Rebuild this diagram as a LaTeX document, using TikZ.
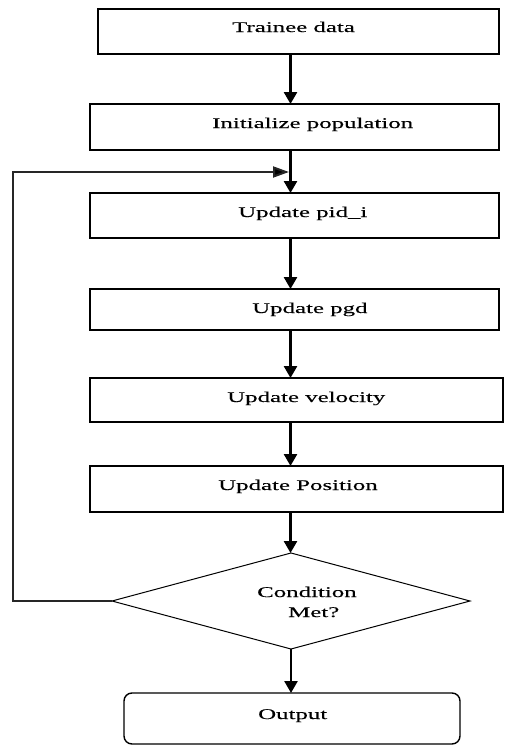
\documentclass[tikz,border=0pt]{standalone}
\usepackage{fontspec}
\setmainfont{Liberation Serif}[FakeStretch=1.68,FakeBold=0.15]
\usetikzlibrary{arrows.meta,shapes.geometric}

\begin{document}
\begin{tikzpicture}[x=1pt,y=-1pt,
  stepbox/.style={draw=black,line width=1.5pt,rectangle,inner sep=0pt,outer sep=0pt},
  decide/.style={draw=black,line width=1pt,diamond,inner sep=0pt,outer sep=0pt},
  endbox/.style={draw=black,line width=1.4pt,rectangle,rounded corners=8pt,inner sep=0pt,outer sep=0pt},
  lbl/.style={anchor=base west,inner sep=0pt,font=\fontsize{14.8pt}{17pt}\selectfont},
  flow/.style={line width=2.6pt,-{Triangle[width=13pt,length=12pt]}},
  back/.style={line width=2pt,draw=black!85,-{Triangle[width=11pt,length=16pt,fill=black]}}
]
\useasboundingbox (0,0) rectangle (505,747);

% process boxes
\node[stepbox,minimum width=401pt,minimum height=45pt] (b1) at (298.5,31.5) {};
\node[stepbox,minimum width=409pt,minimum height=46pt] (b2) at (294.5,127) {};
\node[stepbox,minimum width=409pt,minimum height=45pt] (b3) at (294.5,215.5) {};
\node[stepbox,minimum width=409pt,minimum height=41pt] (b4) at (294.5,309.5) {};
\node[stepbox,minimum width=413pt,minimum height=44pt] (b5) at (296.5,400) {};
\node[stepbox,minimum width=413pt,minimum height=46pt] (b6) at (296.5,489) {};

% decision and final box
\node[decide,minimum width=358pt,minimum height=96pt] (dia) at (291,601) {};
\node[endbox,minimum width=336pt,minimum height=51pt] (out) at (292,718.5) {};

% labels
\node[lbl] (t1) at (232,32) {Trainee data};
\node[lbl] (t2) at (212,128) {Initialize population};
\node[lbl] (t3) at (238,217) {Update pid\_i};
\node[lbl] (t4) at (252,313) {Update pgd};
\node[lbl] (t5) at (227,402) {Update velocity};
\node[lbl] (t6) at (218,490) {Update Position};
\node[lbl] (t7) at (257,597) {Condition};
\node[lbl] (t8) at (288,617) {Met?};
\node[lbl] (t9) at (258,719) {Output};

% main flow line
\coordinate (ax) at (290.5,0);
\draw[flow] (b1.south -| ax) -- (b2.north -| ax);
\draw[flow] (b2.south -| ax) -- (b3.north -| ax);
\draw[flow] (b3.south -| ax) -- (b4.north -| ax);
\draw[flow] (b4.south -| ax) -- (b5.north -| ax);
\draw[flow] (b5.south -| ax) -- (b6.north -| ax);
\draw[flow] (b6.south -| ax) -- (dia.north -| ax);
\draw[flow] (dia.south) -- (out.north -| dia.south);

% loop back when the condition is not met
\coordinate (lc) at (13,172);
\coordinate (jn) at (289,172);
\draw[back] (dia.west) -| (lc) -- (jn);
\end{tikzpicture}
\end{document}
